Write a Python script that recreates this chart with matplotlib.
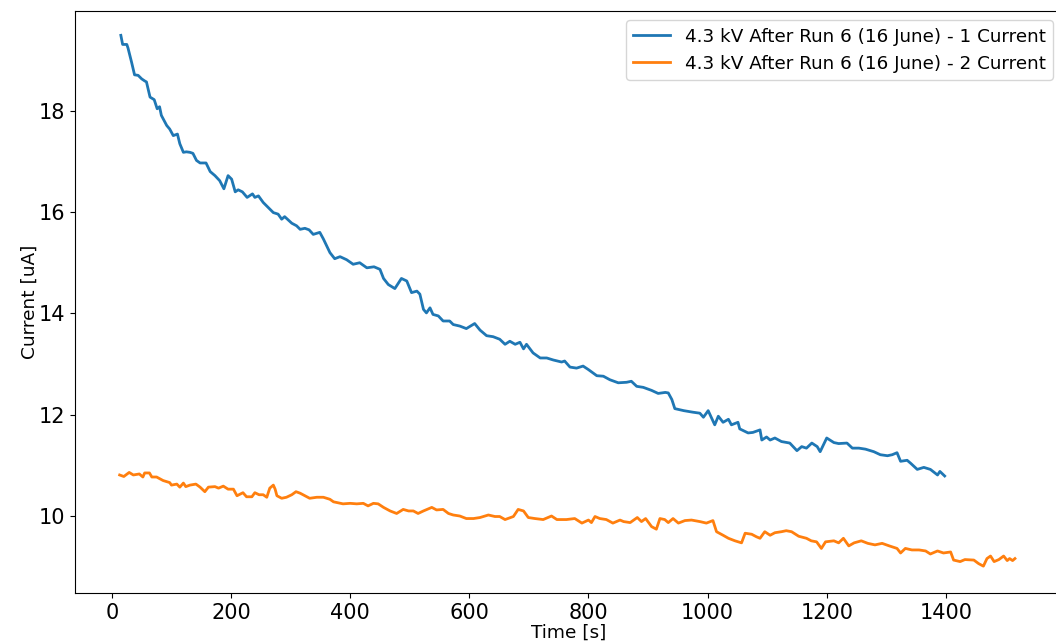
import matplotlib
matplotlib.use("Agg")
import matplotlib.pyplot as plt

# run 1 current readings (time [s], current [uA])
t1 = [15, 18, 25, 27, 33, 38, 44, 50, 55, 58, 64, 71, 76, 80, 83, 92, 97, 103, 110, 114,
      120, 125, 131, 136, 142, 148, 158, 165, 173, 181, 188, 195, 201, 207, 212, 219, 227,
      236, 240, 246, 254, 265, 271, 279, 285, 290, 302, 310, 316, 324, 331, 338, 349, 355,
      366, 374, 383, 394, 405, 416, 428, 440, 450, 456, 464, 475, 486, 495, 503, 512, 517,
      523, 528, 534, 539, 548, 556, 567, 573, 584, 595, 609, 618, 629, 640, 651, 660, 668,
      677, 685, 691, 696, 707, 719, 730, 741, 755, 760, 769, 780, 791, 800, 814, 825, 836,
      850, 864, 872, 881, 892, 906, 917, 929, 934, 940, 945, 960, 975, 987, 993, 1001, 1012,
      1018, 1026, 1035, 1040, 1051, 1054, 1068, 1076, 1088, 1091, 1099, 1105, 1113, 1124,
      1138, 1150, 1158, 1166, 1175, 1184, 1189, 1200, 1212, 1220, 1234, 1243, 1254, 1265,
      1279, 1290, 1302, 1310, 1318, 1324, 1335, 1341, 1352, 1363, 1374, 1386, 1390, 1398]
i1 = [19.49, 19.31, 19.31, 19.24, 18.96, 18.71, 18.70, 18.63, 18.59, 18.57, 18.27, 18.22,
      18.04, 18.08, 17.91, 17.71, 17.64, 17.51, 17.54, 17.35, 17.18, 17.19, 17.18, 17.16,
      17.02, 16.97, 16.97, 16.80, 16.72, 16.62, 16.46, 16.72, 16.65, 16.40, 16.44, 16.40,
      16.29, 16.36, 16.29, 16.32, 16.19, 16.06, 15.99, 15.96, 15.86, 15.91, 15.78, 15.73,
      15.66, 15.68, 15.65, 15.56, 15.60, 15.47, 15.20, 15.08, 15.12, 15.06, 14.97, 15.00,
      14.90, 14.92, 14.87, 14.69, 14.57, 14.49, 14.69, 14.64, 14.41, 14.44, 14.38, 14.08,
      14.01, 14.11, 13.98, 13.95, 13.85, 13.85, 13.78, 13.75, 13.70, 13.80, 13.67, 13.56,
      13.54, 13.49, 13.39, 13.45, 13.39, 13.43, 13.30, 13.39, 13.22, 13.12, 13.12, 13.08,
      13.04, 13.06, 12.94, 12.92, 12.96, 12.89, 12.77, 12.76, 12.69, 12.63, 12.64, 12.66,
      12.56, 12.54, 12.48, 12.42, 12.44, 12.43, 12.30, 12.12, 12.08, 12.05, 12.03, 11.95,
      12.08, 11.80, 11.97, 11.85, 11.91, 11.80, 11.85, 11.72, 11.64, 11.65, 11.70, 11.50,
      11.56, 11.50, 11.54, 11.47, 11.44, 11.29, 11.37, 11.34, 11.44, 11.37, 11.27, 11.54,
      11.45, 11.43, 11.44, 11.34, 11.34, 11.32, 11.27, 11.21, 11.19, 11.21, 11.25, 11.08,
      11.10, 11.04, 10.92, 10.96, 10.92, 10.81, 10.88, 10.79]

# run 2 current readings
t2 = [13, 20, 29, 36, 46, 52, 55, 63, 67, 75, 86, 97, 100, 109, 114, 120, 124, 131, 141,
      148, 156, 162, 173, 179, 187, 195, 204, 210, 220, 226, 235, 240, 247, 254, 260, 265,
      271, 274, 277, 285, 293, 302, 309, 316, 324, 332, 344, 355, 366, 372, 380, 388, 400,
      411, 422, 430, 439, 447, 456, 467, 478, 489, 498, 506, 514, 523, 537, 545, 556, 565,
      573, 584, 595, 607, 618, 632, 643, 651, 660, 674, 682, 691, 699, 710, 724, 738, 747,
      763, 777, 789, 800, 805, 811, 819, 830, 841, 853, 859, 870, 882, 889, 896, 906, 914,
      920, 928, 934, 942, 951, 962, 973, 987, 998, 1009, 1015, 1026, 1035, 1046, 1057, 1063,
      1074, 1082, 1088, 1096, 1105, 1113, 1124, 1132, 1141, 1153, 1166, 1174, 1183, 1191,
      1198, 1212, 1220, 1228, 1237, 1246, 1258, 1269, 1281, 1293, 1305, 1318, 1324, 1332,
      1343, 1355, 1366, 1374, 1386, 1396, 1408, 1413, 1424, 1432, 1447, 1455, 1463, 1469,
      1475, 1481, 1489, 1497, 1503, 1507, 1512, 1516]
i2 = [10.81, 10.78, 10.86, 10.81, 10.83, 10.77, 10.85, 10.85, 10.77, 10.77, 10.70, 10.66,
      10.61, 10.63, 10.57, 10.65, 10.58, 10.61, 10.63, 10.57, 10.48, 10.57, 10.58, 10.55,
      10.59, 10.53, 10.53, 10.40, 10.46, 10.38, 10.38, 10.46, 10.42, 10.42, 10.37, 10.55,
      10.61, 10.53, 10.40, 10.35, 10.37, 10.42, 10.48, 10.45, 10.40, 10.35, 10.37, 10.37,
      10.33, 10.28, 10.26, 10.24, 10.25, 10.24, 10.25, 10.20, 10.25, 10.24, 10.17, 10.10,
      10.05, 10.13, 10.10, 10.10, 10.05, 10.10, 10.17, 10.12, 10.13, 10.05, 10.02, 10.00,
      9.95, 9.95, 9.97, 10.02, 9.99, 9.99, 9.93, 9.99, 10.13, 10.10, 9.97, 9.95, 9.93,
      10.00, 9.93, 9.93, 9.95, 9.86, 9.92, 9.87, 9.99, 9.95, 9.93, 9.86, 9.92, 9.89, 9.87,
      9.97, 9.89, 9.95, 9.79, 9.74, 9.95, 9.93, 9.87, 9.95, 9.86, 9.91, 9.92, 9.89, 9.86,
      9.91, 9.69, 9.62, 9.56, 9.51, 9.47, 9.66, 9.64, 9.59, 9.56, 9.69, 9.62, 9.67, 9.69,
      9.71, 9.69, 9.60, 9.56, 9.51, 9.49, 9.36, 9.49, 9.51, 9.47, 9.56, 9.41, 9.47, 9.51,
      9.46, 9.43, 9.46, 9.41, 9.36, 9.27, 9.36, 9.33, 9.33, 9.31, 9.25, 9.31, 9.27, 9.29,
      9.13, 9.10, 9.14, 9.13, 9.06, 9.01, 9.16, 9.21, 9.10, 9.14, 9.21, 9.12, 9.16, 9.12,
      9.16]

labels = ["4.3 kV After Run 6 (16 June) - 1 Current",
          "4.3 kV After Run 6 (16 June) - 2 Current"]

fig = plt.figure(figsize=(10.56, 6.44), dpi=100)
# right edge of the axes runs just past the figure border
ax = fig.add_axes([0.071, 0.0792, 0.9347, 0.9037])
ax.plot(t1, i1, label=labels[0], linewidth=2)
ax.plot(t2, i2, label=labels[1], linewidth=2)
ax.set_xlim(-62, 1595)
ax.set_ylim(8.48, 19.97)
ax.tick_params(labelsize=15)
ax.set_xlabel('Time [s]', fontsize=13.3, labelpad=1)
ax.set_ylabel('Current [uA]', fontsize=13.3, labelpad=0)
ax.legend(loc='upper right', fontsize=13.2)
fig.savefig('out.png', dpi=100)
